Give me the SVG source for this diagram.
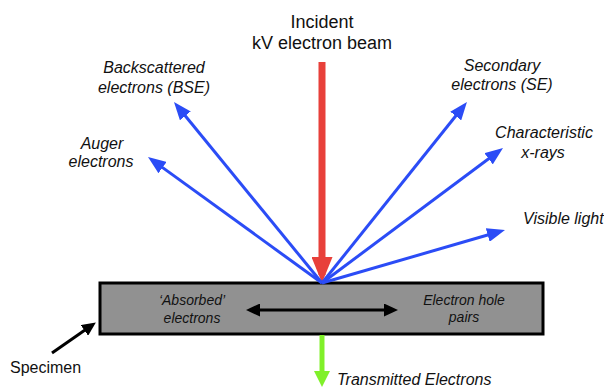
<svg xmlns="http://www.w3.org/2000/svg" width="604" height="387" viewBox="0 0 604 387">
<style>
.t{font-family:"Liberation Sans",Arial,sans-serif;fill:#111}
.i{font-style:italic}
.c{text-anchor:middle}
.blue{stroke:#2b4cf6;stroke-width:3;fill:none;marker-end:url(#mb)}
</style>
<defs>
<marker id="mb" markerUnits="userSpaceOnUse" markerWidth="18" markerHeight="14" refX="8" refY="7" orient="auto" viewBox="0 0 18 14"><path d="M0,0 L18,7 L0,14 z" fill="#2b4cf6"/></marker>
<marker id="mr" markerUnits="userSpaceOnUse" markerWidth="26" markerHeight="21" refX="18" refY="10.5" orient="auto" viewBox="0 0 26 21"><path d="M0,0 L26,10.5 L0,21 z" fill="#e8403a"/></marker>
<marker id="mg" markerUnits="userSpaceOnUse" markerWidth="16" markerHeight="16" refX="8" refY="8" orient="auto" viewBox="0 0 16 16"><path d="M0,0 L16,8 L0,16 z" fill="#80f02a"/></marker>
<marker id="mk" markerUnits="userSpaceOnUse" markerWidth="14" markerHeight="13" refX="6" refY="6.5" orient="auto-start-reverse" viewBox="0 0 14 13"><path d="M0,0 L14,6.5 L0,13 z" fill="#000"/></marker>
</defs>
<g id="specimen">
<rect x="100" y="283" width="443" height="51" fill="#919191" stroke="#000" stroke-width="3"/>
<text class="t i c" x="192" y="305" font-size="14">‘Absorbed’</text>
<text class="t i c" x="192" y="323" font-size="14">electrons</text>
<text class="t i c" x="464" y="305" font-size="14">Electron hole</text>
<text class="t i c" x="464" y="322" font-size="14">pairs</text>
</g>
<g id="connectors">
<line x1="322" y1="62" x2="322" y2="275" stroke="#e8403a" stroke-width="7" marker-end="url(#mr)"/>
<line class="blue" x1="322" y1="283" x2="180.3" y2="109.7"/>
<line class="blue" x1="322" y1="283" x2="156.1" y2="162.9"/>
<line class="blue" x1="322" y1="283" x2="460.7" y2="109.8"/>
<line class="blue" x1="322" y1="283" x2="495" y2="154"/>
<line class="blue" x1="322" y1="283" x2="495.4" y2="232.8"/>
<line x1="322" y1="335" x2="322" y2="379" stroke="#80f02a" stroke-width="5" marker-end="url(#mg)"/>
<line x1="254" y1="310" x2="390" y2="310" stroke="#000" stroke-width="3" marker-start="url(#mk)" marker-end="url(#mk)"/>
<line x1="52" y1="353" x2="89.3" y2="327" stroke="#000" stroke-width="3" marker-end="url(#mk)"/>
</g>
<g id="beam">
<text class="t c" x="322" y="28" font-size="18">Incident</text>
<text class="t c" x="322" y="49" font-size="18">kV electron beam</text>
</g>
<g id="bse">
<text class="t i c" x="154" y="73" font-size="16">Backscattered</text>
<text class="t i c" x="154" y="93" font-size="16">electrons (BSE)</text>
</g>
<g id="auger">
<text class="t i c" x="102" y="149" font-size="16">Auger</text>
<text class="t i c" x="101" y="167" font-size="16">electrons</text>
</g>
<g id="se">
<text class="t i c" x="502" y="71" font-size="16">Secondary</text>
<text class="t i c" x="502" y="90" font-size="16">electrons (SE)</text>
</g>
<g id="xrays">
<text class="t i c" x="544" y="138" font-size="16">Characteristic</text>
<text class="t i c" x="543" y="158" font-size="16">x-rays</text>
</g>
<g id="light">
<text class="t i" x="523" y="224" font-size="16">Visible light</text>
</g>
<g id="transmitted">
<text class="t i" x="337" y="385" font-size="16">Transmitted Electrons</text>
</g>
<g id="specimen-label">
<text class="t" x="10" y="373" font-size="16">Specimen</text>
</g>
</svg>
